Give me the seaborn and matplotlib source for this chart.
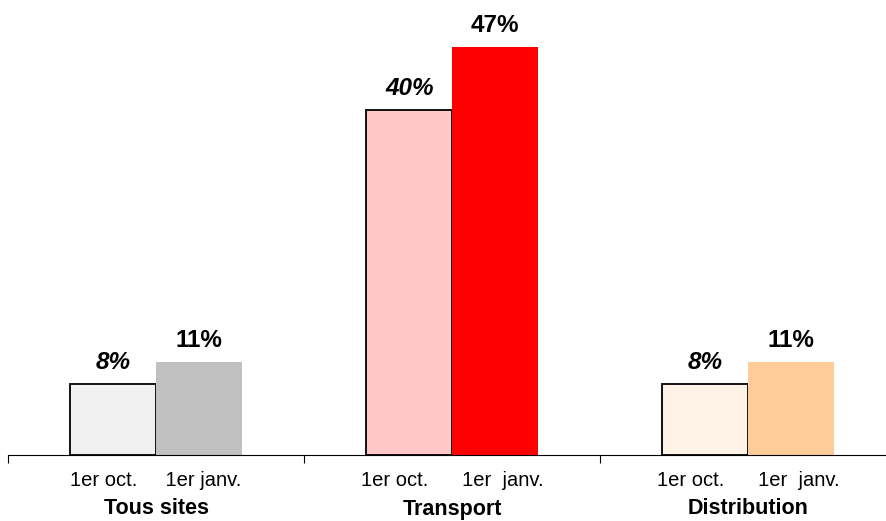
import matplotlib
matplotlib.use("Agg")
import matplotlib.pyplot as plt
import seaborn as sns
import pandas as pd

groups = ["Tous sites", "Transport", "Distribution"]
dates = ["1er oct.", "1er janv."]
oct_values = [8.2, 39.7, 8.2]
jan_values = [10.7, 47.0, 10.7]
tick_labels = ["1er oct.     1er janv.",
               "1er oct.      1er  janv.",
               "1er oct.      1er  janv."]
oct_colors = ["#F0F0F0", "#FFC8C8", "#FFF2E6"]
jan_colors = ["#C0C0C0", "#FF0000", "#FFCC99"]

df = pd.DataFrame({
    "groupe": groups * 2,
    "date": [dates[0]] * 3 + [dates[1]] * 3,
    "valeur": oct_values + jan_values,
})

sns.set_style("white")
plt.rcParams["font.family"] = ["Liberation Sans", "DejaVu Sans"]
plt.rcParams["text.color"] = "black"

W, H = 887, 521
fig = plt.figure(figsize=(W / 100, H / 100), dpi=100)
ax = fig.add_axes([8 / W, 66 / H, 888 / W, 455 / H])

sns.barplot(data=df, x="groupe", y="valeur", hue="date", order=groups,
            hue_order=dates, width=0.578, gap=0, legend=False, ax=ax)

for i, bar in enumerate(ax.containers[0]):
    bar.set_facecolor(oct_colors[i])
    bar.set_edgecolor("black")
    bar.set_linewidth(1.3)
for i, bar in enumerate(ax.containers[1]):
    bar.set_facecolor(jan_colors[i])
    bar.set_edgecolor("none")
    bar.set_linewidth(0)

ax.set_xlim(-0.5, 2.5)
ax.set_ylim(0, 47 * 455 / 408)

for c, style in zip(ax.containers, ["italic", "normal"]):
    for bar in c:
        v = bar.get_height()
        ax.annotate(f"{round(v)}%", (bar.get_x() + bar.get_width() / 2, v),
                    xytext=(0, 11), textcoords="offset points",
                    ha="center", va="baseline", fontsize=17.5,
                    fontweight="bold", fontstyle=style, color="black")

# sub-labels and group names under the axis
trans = ax.get_xaxis_transform()
for i, g in enumerate(groups):
    ax.text(i, -25 / 455, tick_labels[i], transform=trans, ha="center",
            va="center", fontsize=14.5, color="black")
    ax.text(i, -54 / 455, g, transform=trans, ha="center", va="center",
            fontsize=15.5, fontweight="bold", color="black")

sns.despine(ax=ax, left=True)
ax.spines["bottom"].set_color("black")
ax.spines["bottom"].set_linewidth(0.8)
ax.set_yticks([])
ax.set_xticks([-0.5, 0.5, 1.5, 2.5])
ax.set_xticklabels([])
ax.tick_params(axis="x", bottom=True, direction="out", length=6, width=0.8,
               color="black")
ax.set_xlabel("")
ax.set_ylabel("")

fig.savefig("out.png", dpi=100)
